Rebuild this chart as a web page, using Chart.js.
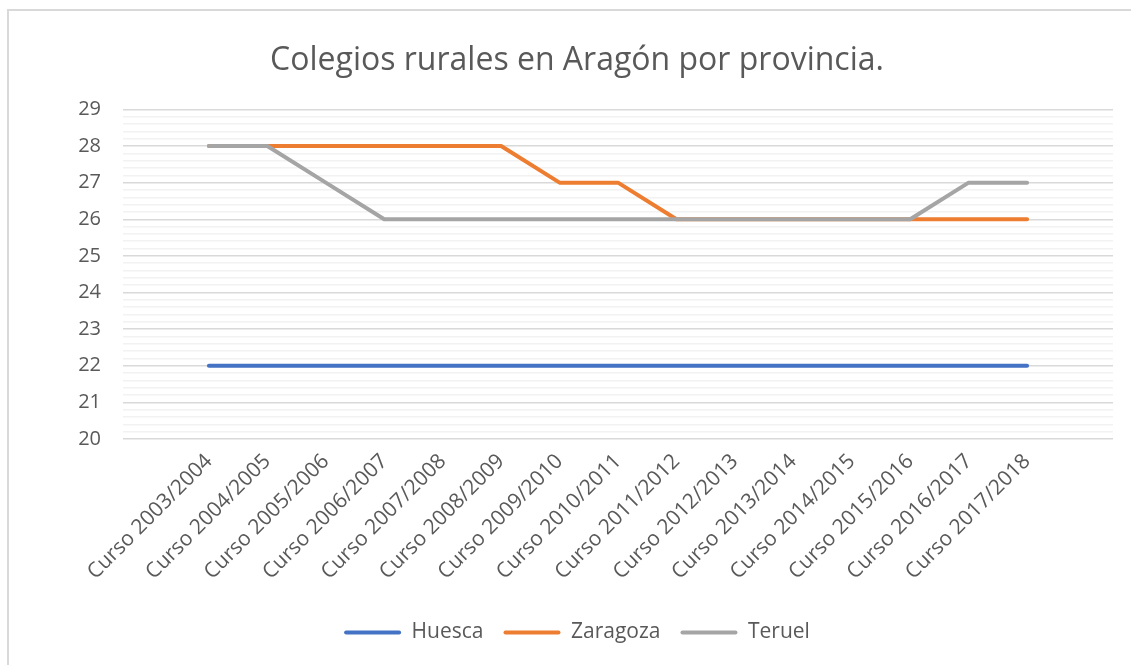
<!DOCTYPE html>
<html>
<head>
<meta charset="utf-8">
<script src="https://cdn.jsdelivr.net/npm/chart.js@4.4.0/dist/chart.umd.min.js"></script>
<style>
  html, body { margin: 0; padding: 0; background: #ffffff; }
  #wrap { width: 1131px; height: 665px; position: relative; }
</style>
</head>
<body>
<div id="wrap"><canvas id="c" width="1131" height="665"></canvas></div>
<script>
const categories = [
  'Curso 2003/2004', 'Curso 2004/2005', 'Curso 2005/2006', 'Curso 2006/2007',
  'Curso 2007/2008', 'Curso 2008/2009', 'Curso 2009/2010', 'Curso 2010/2011',
  'Curso 2011/2012', 'Curso 2012/2013', 'Curso 2013/2014', 'Curso 2014/2015',
  'Curso 2015/2016', 'Curso 2016/2017', 'Curso 2017/2018'
];
const huesca   = [22, 22, 22, 22, 22, 22, 22, 22, 22, 22, 22, 22, 22, 22, 22];
const zaragoza = [28, 28, 28, 28, 28, 28, 27, 27, 26, 26, 26, 26, 26, 26, 26];
const teruel   = [28, 28, 27, 26, 26, 26, 26, 26, 26, 26, 26, 26, 26, 27, 27];
const yTickLabels = [20, 21, 22, 23, 24, 25, 26, 27, 28, 29];
const chartTitle = 'Colegios rurales en Aragón por provincia.';

const FONT = "'Open Sans', 'DejaVu Sans', sans-serif";
const TEXT = '#595959';

function toPoints(arr) { return arr.map((v, i) => ({ x: i, y: v })); }

const framePlugin = {
  id: 'frame',
  beforeDraw(chart) {
    const ctx = chart.ctx;
    ctx.save();
    ctx.fillStyle = '#ffffff';
    ctx.fillRect(0, 0, chart.width, chart.height);
    ctx.strokeStyle = '#d9d9d9';
    ctx.lineWidth = 2;
    ctx.beginPath();
    ctx.moveTo(8, chart.height);
    ctx.lineTo(8, 10);
    ctx.lineTo(chart.width, 10);
    ctx.stroke();
    ctx.restore();
  }
};

new Chart(document.getElementById('c'), {
  type: 'line',
  data: {
    datasets: [
      { label: 'Huesca', data: toPoints(huesca), borderColor: '#4472C4', backgroundColor: '#4472C4', order: 2 },
      { label: 'Zaragoza', data: toPoints(zaragoza), borderColor: '#ED7D31', backgroundColor: '#ED7D31', order: 1 },
      { label: 'Teruel', data: toPoints(teruel), borderColor: '#A5A5A5', backgroundColor: '#A5A5A5', order: 0 }
    ]
  },
  options: {
    responsive: false,
    animation: false,
    devicePixelRatio: 1,
    layout: { padding: { left: 41, right: 18, top: 0, bottom: 12 } },
    elements: {
      line: { borderWidth: 4, tension: 0, borderCapStyle: 'round', borderJoinStyle: 'round', fill: false },
      point: { radius: 0, hoverRadius: 0 }
    },
    plugins: {
      tooltip: { enabled: false },
      title: {
        display: true,
        text: chartTitle,
        color: TEXT,
        font: { family: FONT, size: 32, weight: 'normal' },
        padding: { top: 42, bottom: 29 }
      },
      legend: {
        position: 'bottom',
        labels: {
          color: TEXT,
          font: { family: FONT, size: 21 },
          boxWidth: 57,
          boxHeight: 4,
          padding: 20,
          useBorderRadius: true,
          borderRadius: 2,
          generateLabels(chart) {
            return chart.data.datasets.map((ds, i) => ({
              text: ds.label,
              fillStyle: ds.borderColor,
              strokeStyle: ds.borderColor,
              lineWidth: 0,
              fontColor: TEXT,
              datasetIndex: i,
              hidden: false,
              borderRadius: 2
            }));
          }
        }
      }
    },
    scales: {
      x: {
        type: 'linear',
        min: -1.47,
        max: 15.47,
        grid: { display: false },
        border: { display: false },
        afterBuildTicks(scale) {
          scale.ticks = categories.map((_, i) => ({ value: i }));
        },
        afterFit(scale) { scale.height = 163; },
        ticks: {
          autoSkip: false,
          maxRotation: 45,
          minRotation: 45,
          padding: 2,
          color: TEXT,
          font: { family: FONT, size: 21 },
          callback(v) { return categories[v] !== undefined ? categories[v] : ''; }
        }
      },
      y: {
        min: 20,
        max: 29,
        border: { display: false },
        afterBuildTicks(scale) {
          const t = [];
          for (let k = 0; k <= 45; k++) t.push({ value: 20 + k * 0.2 });
          scale.ticks = t;
        },
        afterFit(scale) { scale.width = 82; },
        grid: {
          drawTicks: false,
          lineWidth: 1.5,
          color(ctx) {
            const v = ctx.tick ? ctx.tick.value : 0;
            return Math.abs(v - Math.round(v)) < 1e-6 ? '#d9d9d9' : '#f2f2f2';
          }
        },
        ticks: {
          autoSkip: false,
          padding: 22,
          color: TEXT,
          font: { family: FONT, size: 20 },
          callback(v) {
            const r = Math.round(v);
            return Math.abs(v - r) < 1e-6 && yTickLabels.includes(r) ? String(r) : '';
          }
        }
      }
    }
  },
  plugins: [framePlugin]
});
</script>
</body>
</html>
